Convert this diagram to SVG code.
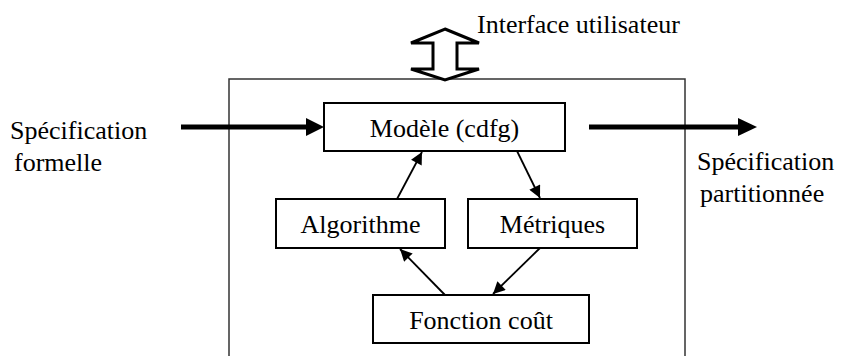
<svg xmlns="http://www.w3.org/2000/svg" width="841" height="356" viewBox="0 0 841 356">
  <defs>
    <style>
      .box { fill: #fff; stroke: #000; stroke-width: 2; }
      .lbl { font-size: 26px; fill: #000; }
      .mid { text-anchor: middle; }
      .conn { stroke: #000; stroke-width: 1.8; fill: none; marker-end: url(#ah); }
      .thick { stroke: #000; stroke-width: 5; }
    </style>
    <marker id="ah" viewBox="0 0 10 10" refX="10" refY="5" markerWidth="14" markerHeight="12" markerUnits="userSpaceOnUse" orient="auto">
      <path d="M0,0 L10,5 L0,10 z" fill="#000"/>
    </marker>
  </defs>
  <rect width="841" height="356" fill="#fff"/>

  <g font-family="'Liberation Serif', 'Times New Roman', Times, serif">
  <g id="system">
    <rect x="229" y="79" width="456" height="320" fill="none" stroke="#333" stroke-width="1.5"/>
  </g>

  <g id="interface">
    <path d="M445,29 L479,43 L457,43 L457,69 L479,69 L445,80 L411,69 L433,69 L433,43 L411,43 Z" fill="#fff" stroke="#000" stroke-width="3" stroke-linejoin="miter"/>
    <text class="lbl" x="477" y="33">Interface utilisateur</text>
  </g>

  <g id="spec-in">
    <text class="lbl" x="10" y="139">Spécification</text>
    <text class="lbl" x="14" y="171">formelle</text>
  </g>

  <g id="spec-out">
    <text class="lbl" x="697" y="170">Spécification</text>
    <text class="lbl" x="700" y="202">partitionnée</text>
  </g>

  <g id="modele">
    <rect class="box" x="324" y="103" width="241" height="48"/>
    <text class="lbl mid" x="444.5" y="137">Modèle (cdfg)</text>
  </g>

  <g id="algorithme">
    <rect class="box" x="276" y="199" width="169" height="49"/>
    <text class="lbl mid" x="360.5" y="233">Algorithme</text>
  </g>

  <g id="metriques">
    <rect class="box" x="468" y="199" width="169" height="49"/>
    <text class="lbl mid" x="552.5" y="233">Métriques</text>
  </g>

  <g id="fonction">
    <rect class="box" x="373" y="295" width="216" height="48"/>
    <text class="lbl mid" x="481" y="329">Fonction coût</text>
  </g>

  <g id="connectors">
    <line class="thick" x1="181" y1="127" x2="308" y2="127"/>
    <path d="M306,118 L324,127 L306,136 Z" fill="#000"/>
    <line class="thick" x1="589" y1="127" x2="740" y2="127"/>
    <path d="M738,118 L757,127 L738,136 Z" fill="#000"/>
    <line class="conn" x1="397" y1="199" x2="422" y2="152"/>
    <line class="conn" x1="517" y1="151" x2="540" y2="198"/>
    <line class="conn" x1="445" y1="295" x2="400" y2="249"/>
    <line class="conn" x1="540" y1="248" x2="493" y2="294"/>
  </g>
  </g>
</svg>
